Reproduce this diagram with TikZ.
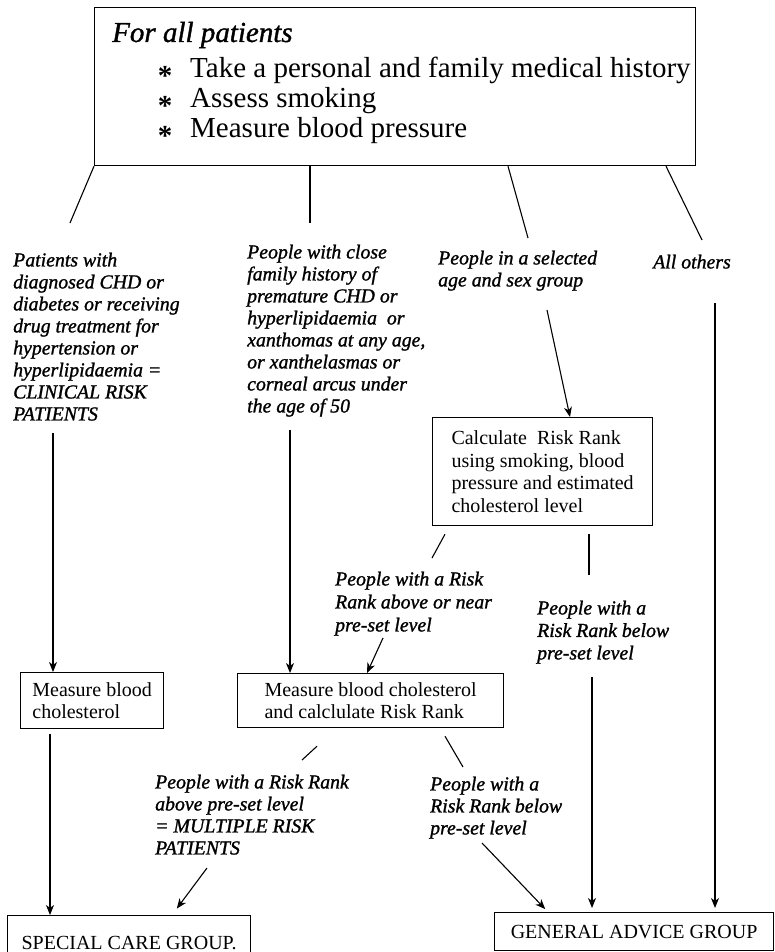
\documentclass[tikz,border=0pt]{standalone}
\usepackage{fontspec}
\setmainfont{Liberation Serif}[ItalicFeatures={FakeBold=1.2}]
\usetikzlibrary{arrows.meta}

\newcommand\boxfont{\fontsize{20}{23}\selectfont}
\newcommand\lblfont{\fontsize{19.8}{22}\selectfont\itshape}
\newcommand\headfont{\fontsize{29}{30}\selectfont}

\tikzset{
  frame/.style={draw, line width=1.2pt, inner sep=0pt, align=left, font=\boxfont, anchor=north west},
  lbl/.style={anchor=north west, inner sep=0pt, align=left, font=\lblfont},
  headtext/.style={anchor=base west, inner sep=0pt, font=\headfont},
  link/.style={line width=1.1pt},
  flow/.style={line width=1.1pt, -{Stealth[length=10pt,width=8pt,inset=3pt]}},
}

\begin{document}
\begin{tikzpicture}[x=1pt,y=-1pt]
\useasboundingbox (0,0) rectangle (775,952);
\clip (0,0) rectangle (775,952);

% opening box: history, smoking, blood pressure
\node[frame, minimum width=601pt, minimum height=158pt] (intake) at (94,7) {};
\node[headtext, font=\headfont\itshape] (head) at (112,42) {For all patients};
\node[inner sep=0pt, font=\headfont\bfseries] (st1) at (165,76) {*};
\node[inner sep=0pt, font=\headfont\bfseries] (st2) at (165,106) {*};
\node[inner sep=0pt, font=\headfont\bfseries] (st3) at (165,136) {*};
\node[headtext] (i1) at (190,78) {Take a personal and family medical history};
\node[headtext] (i2) at (190,108) {Assess smoking};
\node[headtext] (i3) at (190,138) {Measure blood pressure};

% branch labels under the opening box
\node[lbl] (clin) at (13,252.5) {Patients with\\diagnosed CHD or\\diabetes or receiving\\drug treatment for\\hypertension or\\hyperlipidaemia =\\CLINICAL RISK\\PATIENTS};
\node[lbl] (fam) at (247,244.5) {People with close\\family history of\\premature CHD or\\hyperlipidaemia\ \ or\\xanthomas at any age,\\or xanthelasmas or\\corneal arcus under\\the age of 50};
\node[lbl] (age) at (438,250.5) {People in a selected\\age and sex group};
\node[lbl] (others) at (653,254.5) {All others};

% process boxes
\node[frame, minimum width=220pt, minimum height=108pt, font=\fontsize{20}{22.7}\selectfont] (calc) at (432,417) {Calculate\ \ Risk Rank\\using smoking, blood\\pressure and estimated\\cholesterol level};
\node[frame, minimum width=143pt, minimum height=56pt, font=\fontsize{20}{21.5}\selectfont] (chol) at (20,672) {Measure blood\\cholesterol};
\node[frame, minimum width=266pt, minimum height=54pt, font=\fontsize{20}{22}\selectfont] (mid) at (237,673) {Measure blood cholesterol\\and calclulate Risk Rank};

% labels between the process boxes
\node[lbl, font=\fontsize{19.8}{23}\selectfont\itshape] (near) at (335,571.5) {People with a Risk\\Rank above or near\\pre-set level};
\node[lbl, font=\fontsize{19.8}{22.5}\selectfont\itshape] (below1) at (537,600.5) {People with a\\Risk Rank below\\pre-set level};
\node[lbl] (multi) at (155,774.5) {People with a Risk Rank\\above pre-set level\\= MULTIPLE RISK\\PATIENTS};
\node[lbl] (below2) at (430,776.5) {People with a\\Risk Rank below\\pre-set level};

% outcome groups
\node[frame, minimum width=243pt, minimum height=54pt, align=center] (scg) at (7,915) {SPECIAL CARE GROUP.};
\node[frame, minimum width=279pt, minimum height=38pt, align=center] (ga) at (494,912) {GENERAL ADVICE GROUP};

% free ends of the connectors
\coordinate (t1) at (70,223);
\coordinate (t2) at (310,223);
\coordinate (t3) at (528,238);
\coordinate (t4) at (702,240);
\coordinate (a1) at (53,433);
\coordinate (a2) at (290,430);
\coordinate (a3) at (547,310);
\coordinate (a4) at (432,558);
\coordinate (a5) at (383,638);
\coordinate (a6) at (589,575);
\coordinate (a7) at (592,677);
\coordinate (a8) at (715,303);
\coordinate (a9) at (302,760);
\coordinate (a10) at (463,767);
\coordinate (a11) at (207,868);
\coordinate (a12) at (482,843);

% connectors from the opening box
\draw[link] (intake.south west) -- (t1);
\draw[link] (intake.south -| t2) -- (t2);
\draw[link] ([xshift=414pt]intake.south west) -- (t3);
\draw[link] ([xshift=572pt]intake.south west) -- (t4);

% arrows into the process boxes
\draw[flow] (a1) -- (chol.north -| a1);
\draw[flow] (a2) -- (mid.north -| a2);
\draw[flow] (a3) -- ([xshift=138pt]calc.north west);
\draw[link] ([xshift=13pt,yshift=-8pt]calc.south west) -- (a4);
\draw[flow] (a5) -- ([xshift=130pt]mid.north west);
\draw[link] ([xshift=157pt,yshift=-8pt]calc.south west) -- (a6);

% arrows into the outcome groups
\draw[flow, shorten >=4pt] (a7) -- (ga.north -| a7);
\draw[flow, shorten >=4pt] (a8) -- (ga.north -| a8);
\draw[link] ([xshift=80pt,yshift=-18pt]mid.south west) -- (a9);
\draw[link] ([xshift=208pt,yshift=-8pt]mid.south west) -- (a10);
\draw[flow] ([xshift=30pt,yshift=-5pt]chol.south west) -- ([xshift=43pt]scg.north west);
\draw[flow, shorten >=8pt] (a11) -- ([xshift=165pt]scg.north west);
\draw[flow, shorten >=4pt] (a12) -- ([xshift=54pt]ga.north west);
\end{tikzpicture}
\end{document}
